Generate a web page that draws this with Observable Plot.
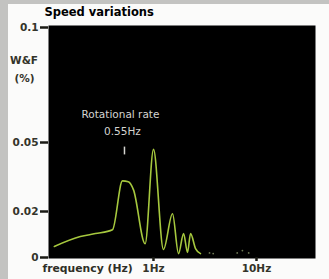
<!DOCTYPE html>
<html><head><meta charset="utf-8">
<script src="https://cdn.jsdelivr.net/npm/d3@7"></script>
<script src="https://cdn.jsdelivr.net/npm/@observablehq/plot@0.6"></script>
<style>
html,body{margin:0;padding:0;background:#c3c3c1;width:329px;height:279px;overflow:hidden}
#chart{position:absolute;left:8px;top:4px;width:321px;height:275px;background:#fbfbfa}
</style></head><body><div id="chart"></div>
<script>
const title = "Speed variations";
const yLabelLines = ["W&F", "(%)"];
const xLabel = "frequency (Hz)";
const freqs = [0.109, 0.195, 0.273, 0.40, 0.50, 0.57, 0.64, 0.83, 1.0, 1.25, 1.53, 1.75, 1.96, 2.14, 2.29, 2.56, 2.86];
const wf    = [0.0048, 0.0091, 0.0104, 0.0121, 0.0333, 0.0329, 0.0294, 0.006, 0.047, 0.0035, 0.019, 0.0017, 0.0104, 0.0022, 0.0104, 0.0039, 0.0017];
const noiseFreqs = [3.5, 3.8, 6.5, 7.3, 8.4];
const noiseVals  = [0.002, 0.0017, 0.002, 0.003, 0.002];
const yTicks = [0, 0.02, 0.05, 0.1];
const yTickLabels = ["0", "0.02", "0.05", "0.1"];
const xTicks = [1, 10];
const xTickLabels = ["1Hz", "10Hz"];
const annotation = ["Rotational rate", "0.55Hz"];
const annotationX = [0.478, 0.50];
const annotationY = [0.0622, 0.0548];
const rotRate = 0.523;
const markerY = [0.0446, 0.048];

const series = freqs.map((f, i) => ({f, v: wf[i]}));
const noise = noiseFreqs.map((f, i) => ({f, v: noiseVals[i]}));
const notes = annotation.map((t, i) => ({t, x: annotationX[i], y: annotationY[i]}));

const plot = Plot.plot({
  width: 321, height: 275,
  marginLeft: 40, marginRight: 14, marginTop: 23, marginBottom: 22,
  style: {background: "transparent", fontFamily: "DejaVu Sans"},
  x: {type: "log", domain: [0.0957, 37.4]},
  y: {domain: [0, 0.1]},
  marks: [
    Plot.frame({fill: "black", insetTop: -2, insetBottom: -1}),
    Plot.axisY({ticks: yTicks, tickFormat: (d, i) => yTickLabels[yTicks.indexOf(d)], tickSize: 8, tickPadding: 2,
      color: "#34342a", stroke: "#1a1a14", strokeWidth: 2.5, fontSize: 10.5, fontWeight: "bold", label: null}),
    Plot.axisX({ticks: xTicks, tickFormat: d => xTickLabels[xTicks.indexOf(d)], tickSize: 4, tickPadding: 3,
      color: "#34342a", stroke: "#1a1a14", strokeWidth: 2.5, fontSize: 10.5, fontWeight: "bold", label: null}),
    Plot.line(series, {x: "f", y: "v", stroke: "#a6c83e", strokeWidth: 1.6, curve: "monotone-x"}),
    Plot.dot(noise, {x: "f", y: "v", r: 0.9, fill: "#6f7a55"}),
    Plot.text(notes, {x: "x", y: "y", text: "t", fill: "#d4d4d0", fontSize: 10.5, fontFamily: "DejaVu Sans"}),
    Plot.ruleX([rotRate], {y1: markerY[0], y2: markerY[1], stroke: "#d4d4d0", strokeWidth: 1.5}),
    Plot.text([title], {text: d => d, frameAnchor: "top-left", dx: -4, dy: -15, textAnchor: "start", lineAnchor: "middle",
      fontSize: 11.5, fontWeight: 900, fill: "black"}),
    Plot.text([yLabelLines[0]], {text: d => d, frameAnchor: "top-left", dx: -24.5, dy: 33, textAnchor: "middle", lineAnchor: "middle",
      fontSize: 10.5, fontWeight: "bold", fill: "#34342a"}),
    Plot.text([yLabelLines[1]], {text: d => d, frameAnchor: "top-left", dx: -24, dy: 51, textAnchor: "middle", lineAnchor: "middle",
      fontSize: 10.5, fontWeight: "bold", fill: "#34342a"}),
    Plot.text([xLabel], {text: d => d, frameAnchor: "bottom-left", dx: -6, dy: 11, textAnchor: "start", lineAnchor: "middle",
      fontSize: 10.8, fontWeight: "bold", fill: "#2e2e26"})
  ]
});
document.getElementById("chart").appendChild(plot);
</script></body></html>
